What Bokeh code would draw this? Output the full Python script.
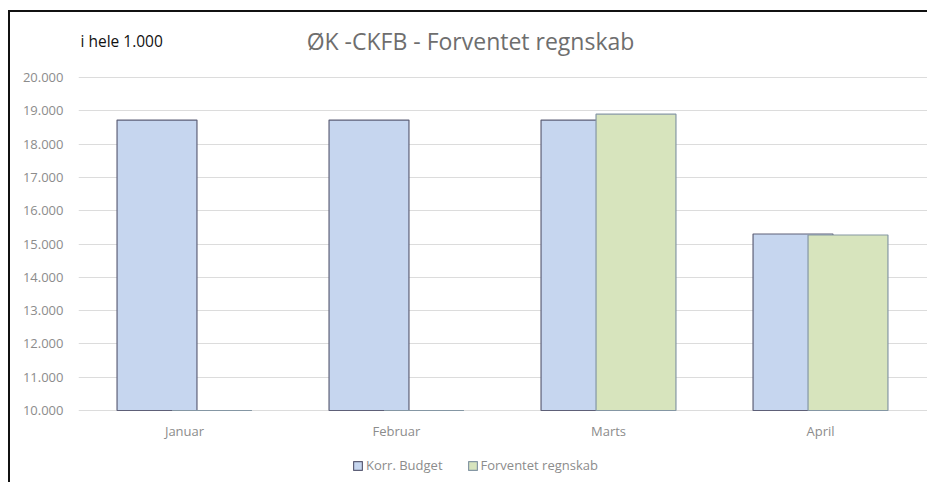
from bokeh.plotting import figure
from bokeh.models import (Range1d, FixedTicker, Legend, LegendItem, ColumnDataSource, Label)
from bokeh.embed import file_html
from bokeh.resources import INLINE

# ---- data ----
months = ["Januar", "Februar", "Marts", "April"]
korr_budget = [18720, 18720, 18720, 15300]
forventet_regnskab = [0, 0, 18900, 15270]
y_ticks = [10000, 11000, 12000, 13000, 14000, 15000, 16000, 17000, 18000, 19000, 20000]
y_tick_labels = ["10.000", "11.000", "12.000", "13.000", "14.000", "15.000",
                 "16.000", "17.000", "18.000", "19.000", "20.000"]
title_text = "ØK -CKFB - Forventet regnskab"
unit_text = "i hele 1.000"

# ---- styling / layout ----
FONT = "Open Sans"
Y0, Y1 = y_ticks[0], y_ticks[-1]
offset = 0.1297
bar_w = 0.377
H, PLOT_H, TOP_PAD = 472, 333, 65          # canvas height, value-area height, space above it
BOT_PAD = H - PLOT_H - TOP_PAD
span = Y1 - Y0

xs = list(range(len(months)))
src_b = ColumnDataSource(dict(
    x=[i - offset for i in xs],
    top=[max(v, Y0) for v in korr_budget],
    bottom=[Y0] * len(xs)))
src_f = ColumnDataSource(dict(
    x=[i + offset for i in xs],
    top=[max(v, Y0) for v in forventet_regnskab],
    bottom=[Y0] * len(xs)))

# the frame covers the full height so texts and legend inside it are not clipped
p = figure(width=919, height=H, output_backend="svg", toolbar_location=None,
           x_range=Range1d(-0.5, -0.5 + 849 / 212),
           y_range=Range1d(Y0 - BOT_PAD / PLOT_H * span, Y1 + TOP_PAD / PLOT_H * span),
           min_border_left=68, min_border_right=2, min_border_top=0, min_border_bottom=0)
p.styles = {"margin-left": "8px", "margin-top": "10px",
            "border-left": "2px solid #111", "border-top": "2px solid #111"}
p.outline_line_color = None
p.background_fill_color = "white"
p.border_fill_color = "white"

rb = p.vbar(x="x", top="top", bottom="bottom", width=bar_w, source=src_b,
            fill_color="#c6d6ef", line_color="#5e6078", line_width=1.2)
rf = p.vbar(x="x", top="top", bottom="bottom", width=bar_w, source=src_f,
            fill_color="#d7e4bd", line_color="#8597a4", line_width=1.2)

# axes
p.xaxis.ticker = FixedTicker(ticks=xs)
p.xaxis.major_label_overrides = {i: m for i, m in zip(xs, months)}
p.xaxis.fixed_location = Y0
p.yaxis.ticker = FixedTicker(ticks=y_ticks)
p.yaxis.major_label_overrides = {t: l for t, l in zip(y_ticks, y_tick_labels)}
for ax in (p.xaxis[0], p.yaxis[0]):
    ax.axis_line_color = None
    ax.major_tick_line_color = None
    ax.minor_tick_line_color = None
    ax.major_label_text_font = FONT
    ax.major_label_text_font_size = "13px"
    ax.major_label_text_color = "#8c8c8c"
p.xaxis.major_label_standoff = 5
p.yaxis.major_label_standoff = 9
p.xgrid.grid_line_color = None
p.ygrid.ticker = FixedTicker(ticks=y_ticks)
p.ygrid.grid_line_color = "#dcdcdc"
p.ygrid.grid_line_width = 1

# texts
p.add_layout(Label(x=392, y=H - 28, x_units="screen", y_units="screen", text=title_text,
                   text_font=FONT, text_font_size="23px", text_color="#6e6e6e",
                   text_align="center", text_baseline="middle"))
p.add_layout(Label(x=2, y=H - 28, x_units="screen", y_units="screen", text=unit_text,
                   text_font=FONT, text_font_size="15.5px", text_color="#111111",
                   text_align="left", text_baseline="middle"))

legend = Legend(items=[LegendItem(label="Korr. Budget", renderers=[rb]),
                       LegendItem(label="Forventet regnskab", renderers=[rf])],
                orientation="horizontal", location=(274, 10),
                glyph_width=11, glyph_height=11, label_standoff=3, spacing=24,
                padding=0, margin=0, border_line_color=None, background_fill_alpha=0,
                label_text_font=FONT, label_text_font_size="13px", label_text_color="#8c8c8c",
                label_height=11)
p.add_layout(legend, "center")

open("out.html", "w").write(file_html(p, INLINE))
